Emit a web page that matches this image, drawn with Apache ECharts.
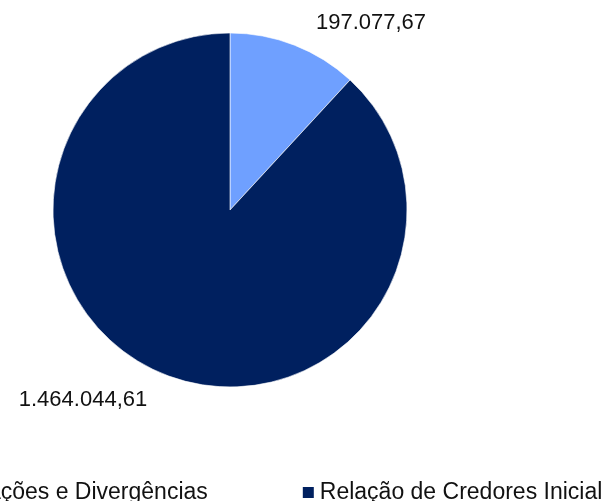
<!DOCTYPE html>
<html>
<head>
<meta charset="utf-8">
<script src="https://cdn.jsdelivr.net/npm/echarts@6/dist/echarts.min.js"></script>
<style>
    html, body { margin: 0; padding: 0; background: #fff; }
    #grafico { width: 606px; height: 501px; }
</style>
</head>
<body>
<div id="grafico"></div>
<script>
    // dados do gráfico
    var categorias = ["Habilitações e Divergências", "Relação de Credores Inicial"];
    var valores = [197077.67, 1464044.61];
    var cores = ["#6fa0ff", "#00205f"];

    // posição dos rótulos relativa ao centro da pizza
    var deslocRotulo = [[141, -187], [-147, 190]];
    var centro = [230, 210];

    // formata número no padrão brasileiro: 1.464.044,61
    function formatarBR(v) {
        var partes = v.toFixed(2).split(".");
        var inteiro = partes[0].replace(/\B(?=(\d{3})+(?!\d))/g, ".");
        return inteiro + "," + partes[1];
    }

    var dados = categorias.map(function (nome, i) {
        return { name: nome, value: valores[i], itemStyle: { color: cores[i] } };
    });

    var option = {
        animation: false,
        legend: {
            data: categorias,
            left: -95,
            top: 481,
            padding: 0,
            itemGap: 93,
            itemWidth: 13,
            itemHeight: 13,
            icon: "rect",
            textStyle: {
                fontFamily: "Liberation Sans",
                fontSize: 23,
                color: "#111"
            }
        },
        series: [{
            type: "pie",
            center: centro,
            radius: 177,
            startAngle: 90,
            clockwise: true,
            data: dados,
            itemStyle: {
                borderColor: "#fff",
                borderWidth: 0.6
            },
            emphasis: { disabled: true },
            labelLine: { show: false },
            label: {
                show: true,
                position: "outside",
                overflow: "none",
                fontFamily: "Liberation Sans",
                fontSize: 22,
                color: "#111",
                formatter: function (p) {
                    return formatarBR(p.value);
                }
            },
            labelLayout: function (p) {
                var d = deslocRotulo[p.dataIndex];
                return {
                    x: centro[0] + d[0],
                    y: centro[1] + d[1],
                    align: "center",
                    verticalAlign: "middle"
                };
            }
        }]
    };

    var chartObj = echarts.init(document.getElementById("grafico"));
    chartObj.setOption(option);
</script>
</body>
</html>
